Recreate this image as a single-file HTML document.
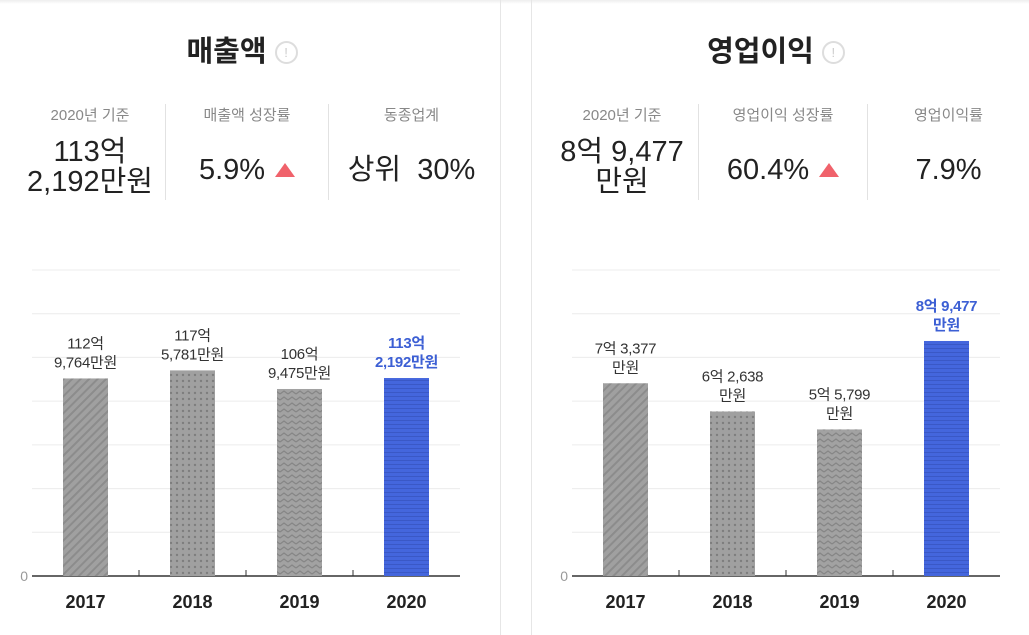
<!DOCTYPE html>
<html><head><meta charset="utf-8"><style>
body{margin:0;width:1029px;height:635px;background:#fff;font-family:"Liberation Sans","Noto Sans CJK KR",sans-serif;color:#222;overflow:hidden;position:relative}
.topbar{position:absolute;left:0;top:0;width:1029px;height:4px;background:linear-gradient(#eee,#fff)}
.vline{position:absolute;top:0;width:1px;height:635px;background:#e6e6e6}
.title{position:absolute;top:28px;font-size:29px;font-weight:bold;color:#222;text-align:center}
.info{display:inline-block;width:19px;height:19px;border:2px solid #ddd;border-radius:50%;color:#ccc;font-size:13px;line-height:19px;text-align:center;vertical-align:4px;margin-left:8px;font-weight:normal}
.stat{position:absolute;top:104px;text-align:center}
.stat .lbl{font-size:15px;color:#888}
.stat .val{font-size:29px;color:#222;line-height:30px}
.sep{position:absolute;top:104px;width:1px;height:96px;background:#e2e2e2}
.tri{display:inline-block;width:0;height:0;border-left:10px solid transparent;border-right:10px solid transparent;border-bottom:14px solid #f0626b;margin-left:10px;vertical-align:2px}
svg{position:absolute;left:0;top:0}
</style></head><body>
<div class="topbar"></div>
<div class="vline" style="left:500px"></div>
<div class="vline" style="left:531px"></div>

<div class="title" style="left:-8px;width:500px">매출액<span class="info">!</span></div>
<div class="stat" style="left:15px;width:150px"><div class="lbl">2020년 기준</div><div class="val" style="margin-top:12px">113억<br>2,192만원</div></div>
<div class="sep" style="left:165px"></div>
<div class="stat" style="left:166px;width:162px"><div class="lbl">매출액 성장률</div><div class="val" style="margin-top:30px">5.9%<span class="tri"></span></div></div>
<div class="sep" style="left:328px"></div>
<div class="stat" style="left:329px;width:165px"><div class="lbl">동종업계</div><div class="val" style="margin-top:30px">상위&nbsp; 30%</div></div>

<div class="title" style="left:527px;width:498px">영업이익<span class="info">!</span></div>
<div class="stat" style="left:547px;width:150px"><div class="lbl">2020년 기준</div><div class="val" style="margin-top:12px">8억 9,477<br>만원</div></div>
<div class="sep" style="left:698px"></div>
<div class="stat" style="left:699px;width:168px"><div class="lbl">영업이익 성장률</div><div class="val" style="margin-top:30px">60.4%<span class="tri"></span></div></div>
<div class="sep" style="left:867px"></div>
<div class="stat" style="left:868px;width:161px"><div class="lbl">영업이익률</div><div class="val" style="margin-top:30px">7.9%</div></div>

<svg id="chart" width="1029" height="635">
<defs>
<pattern id="p0" width="6" height="6" patternUnits="userSpaceOnUse" patternTransform="rotate(45)"><rect width="6" height="6" fill="#a0a0a0"/><rect width="2" height="6" fill="#8c8c8c"/></pattern>
<pattern id="p1" width="6" height="6" patternUnits="userSpaceOnUse"><rect width="6" height="6" fill="#a0a0a0"/><circle cx="3" cy="3" r="1.2" fill="#7e7e7e"/></pattern>
<pattern id="p2" width="8" height="6" patternUnits="userSpaceOnUse"><rect width="8" height="6" fill="#a2a2a2"/><path d="M0 4 L4 1 L8 4" stroke="#858585" fill="none" stroke-width="1.2"/></pattern>
<pattern id="p3" width="4" height="4" patternUnits="userSpaceOnUse"><rect width="4" height="4" fill="#4466dd"/><rect width="4" height="1" fill="#3a58c6"/></pattern>
</defs>
</svg>
<script>
const categories=["2017","2018","2019","2020"];
const revenueValues=[112.9764,117.5781,106.9475,113.2192];
const revenueLabels=[["112억","9,764만원"],["117억","5,781만원"],["106억","9,475만원"],["113억","2,192만원"]];
const profitValues=[7.3377,6.2638,5.5799,8.9477];
const profitLabels=[["7억 3,377","만원"],["6억 2,638","만원"],["5억 5,799","만원"],["8억 9,477","만원"]];
const revenueMax=175, profitMax=11.65;
const svg=document.getElementById('chart');
const NS='http://www.w3.org/2000/svg';
function mk(tag,attrs){const e=document.createElementNS(NS,tag);for(const k in attrs)e.setAttribute(k,attrs[k]);svg.appendChild(e);return e;}
function draw(x0,x1,vals,labels,max,prefix){
  const base=576,top=270,H=base-top,step=(x1-x0)/categories.length;
  const y=v=>base-v/max*H;
  for(let i=0;i<7;i++){const gy=top+i*H/7;const g=mk('line',{x1:x0,x2:x1,y1:gy,y2:gy,stroke:'#ececec'});
    
    }
  const b=mk('line',{x1:x0,x2:x1,y1:base,y2:base,stroke:'#333','stroke-width':1.5});
  
  
  const z=mk('text',{x:x0-4,y:base+5,'text-anchor':'end','font-size':14,fill:'#999'});z.textContent='0';
  
  
  categories.forEach((c,i)=>{
    const cx=x0+step*(i+0.5);
    if(i>0){const t=mk('line',{x1:x0+step*i,x2:x0+step*i,y1:base-6,y2:base,stroke:'#333'});
      
      }
    const yt=y(vals[i]);
    const r=mk('rect',{x:cx-22.5,y:yt,width:45,height:base-yt,fill:'url(#p'+i+')'});
    
    
    const last=i==categories.length-1;
    labels[i].forEach((l,j)=>{
      const t=mk('text',{x:cx,y:yt-11-(1-j)*19,'text-anchor':'middle','font-size':15,fill:last?'#3c5fd4':'#333','font-weight':last?'bold':'normal','letter-spacing':'-0.3'});
      t.textContent=l;
      
      
    });
    const xl=mk('text',{x:cx,y:base+32,'text-anchor':'middle','font-size':18,'font-weight':'bold',fill:'#222'});xl.textContent=c;
    
    
  });
}
draw(32,460,revenueValues,revenueLabels,revenueMax,'revenue');
draw(572,1000,profitValues,profitLabels,profitMax,'profit');
</script>
</body></html>
